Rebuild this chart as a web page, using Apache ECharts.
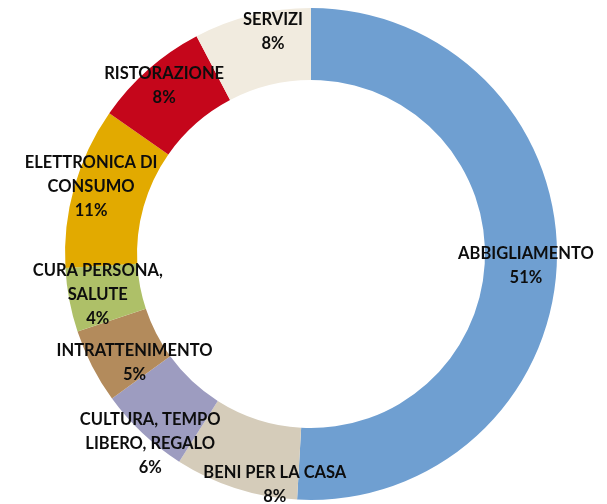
<!DOCTYPE html>
<html>
<head>
<meta charset="utf-8">
<script src="https://cdn.jsdelivr.net/npm/echarts@6/dist/echarts.min.js"></script>
<style>html,body{margin:0;padding:0;background:#fff}#c{width:607px;height:504px}</style>
</head>
<body>
<div id="c"></div>
<script>
const categories = ['ABBIGLIAMENTO', 'BENI PER LA CASA', 'CULTURA, TEMPO\nLIBERO, REGALO', 'INTRATTENIMENTO', 'CURA PERSONA,\nSALUTE', 'ELETTRONICA DI\nCONSUMO', 'RISTORAZIONE', 'SERVIZI'];
const shares = [50.9, 8.1, 6.0, 4.9, 4.2, 10.6, 7.6, 7.7];
const colors = ['#6F9FD1', '#D5CCBA', '#9D9CC0', '#B38B5C', '#AEC068', '#E2AA00', '#C5061B', '#F1EBDF'];
const labelShift = [[2, 6], [29, 28], [-15, 34], [13, 11], [-4, 1], [-15, -9], [-6, -9], [13, -16]];

const chart = echarts.init(document.getElementById('c'), null, {renderer: 'canvas'});
const total = shares.reduce((a, b) => a + b, 0);
chart.setOption({
  animation: false,
  series: [{
    type: 'pie',
    center: [311, 254],
    radius: [174, 246],
    startAngle: 90,
    clockwise: true,
    avoidLabelOverlap: false,
    label: {
      show: true,
      position: 'inside',
      fontFamily: 'Lato',
      fontWeight: 'bold',
      fontSize: 16.5,
      lineHeight: 24,
      color: '#0d0d0d',
      align: 'center',
      formatter: p => p.name + '\n' + Math.round(p.value / total * 100) + '%'
    },
    labelLayout: p => ({dx: labelShift[p.dataIndex][0], dy: labelShift[p.dataIndex][1]}),
    itemStyle: {borderWidth: 0},
    data: categories.map((n, i) => ({name: n, value: shares[i], itemStyle: {color: colors[i]}}))
  }]
});
</script>
</body>
</html>
